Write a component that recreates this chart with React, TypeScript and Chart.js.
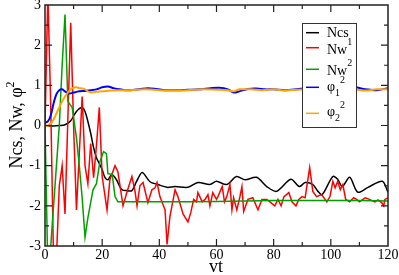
import React, { useEffect, useRef } from "react";
import { Chart, registerables } from "chart.js";

Chart.register(...registerables);

const SERIF = '"Liberation Serif", "Times New Roman", "DejaVu Serif", serif';

// Axis ticks
const xTicks = [0, 20, 40, 60, 80, 100, 120];
const yTicks = [-3, -2, -1, 0, 1, 2, 3];

// Ncs (black)
const ncsX = [0, 3, 5, 7, 9, 11, 12.9, 14, 15, 16, 17, 18, 19, 20, 21, 22, 23.4, 25, 26, 27, 28.5, 30.4, 32, 34, 36.7, 39.5, 42.7, 45.5, 50, 53.5, 57.7, 60, 63.6, 67, 70, 74, 77.6, 81, 86, 89, 91, 93.7, 95.5, 97, 100.7, 102.4, 104, 106.6, 109.4, 113, 118, 120];
const ncsY = [0, -0.01, 0, 0.02, 0.12, 0.35, 0.45, 0.35, 0.1, -0.2, -0.55, -0.8, -0.95, -1.1, -1.3, -1.35, -1.22, -1.35, -1.5, -1.6, -1.62, -1.62, -1.4, -1.17, -1.4, -1.47, -1.54, -1.52, -1.54, -1.42, -1.47, -1.39, -1.47, -1.27, -1.35, -1.29, -1.52, -1.64, -1.34, -1.52, -1.42, -1.47, -1.64, -1.72, -1.27, -1.34, -1.52, -1.29, -1.66, -1.54, -1.39, -1.66];

// Nw^1 (red)
const nw1X = [0, 1, 2, 3, 4, 5, 6, 7, 9, 10, 11, 13, 14, 15, 16, 17, 18, 19, 20, 21.7, 22.7, 24.5, 25.5, 27.3, 28.7, 30.4, 31.5, 32.2, 33.2, 34.3, 36, 37.4, 38.5, 39.2, 40.2, 42, 42.7, 43.7, 45.5, 46.5, 48.3, 50, 51, 52, 53, 53.5, 55, 56, 57, 57.7, 58.7, 60, 60.5, 62, 62.8, 63.6, 64.7, 65.4, 66, 67.1, 68.2, 68.9, 69.5, 71, 72.7, 74.5, 75.9, 77.6, 78.7, 80.4, 81.5, 82.6, 83.6, 85.3, 86.4, 87.8, 88.8, 89.9, 91, 92.6, 93.7, 95, 96.8, 98.6, 99.7, 100.7, 101.5, 102.4, 103.3, 104.2, 105.2, 106.6, 108, 109, 110, 112, 113.5, 115.4, 116.5, 117.8, 118.5, 118.9, 120];
const nw1Y = [0, 3.3, 0.5, -3.4, -3.3, -1.5, -1.0, -2.2, 2.56, 0.0, -2.1, 0.72, -1.0, -1.45, -0.45, -1.3, -0.5, 0.45, -1.27, -2.1, -1.35, -1.0, -1.15, -2.0, -1.65, -1.27, -1.64, -2.0, -1.5, -1.42, -1.92, -1.6, -1.55, -1.42, -1.77, -2.1, -2.96, -2.27, -1.6, -1.77, -2.2, -2.4, -2.17, -1.84, -1.9, -1.67, -1.9, -1.84, -1.72, -2.0, -1.67, -1.84, -1.77, -1.52, -1.9, -1.77, -1.47, -2.1, -1.8, -2.1, -1.77, -1.52, -2.14, -1.84, -1.8, -2.1, -1.84, -1.84, -1.9, -2.0, -1.84, -2.0, -1.77, -1.67, -1.9, -2.0, -1.84, -1.77, -1.8, -1.05, -1.64, -1.77, -1.72, -1.9, -1.77, -1.39, -1.55, -1.39, -1.6, -1.47, -1.84, -1.9, -1.8, -1.84, -1.9, -1.8, -1.84, -1.9, -1.85, -1.92, -2.0, -1.84, -1.8];

// Nw^2 (green)
const nw2X = [0, 1, 2, 3, 4, 5, 6, 7, 8, 9.5, 11, 12, 13, 14, 15, 16.8, 18, 19.2, 20.5, 21.5, 22, 23.5, 24.5, 25.5, 30, 40, 50, 60, 70, 80, 90, 100, 110, 120];
const nw2Y = [0, -3.6, -3.0, -2.0, -1.0, 0.0, 1.5, 2.76, 0.6, 0.45, -0.3, -1.0, -1.8, -2.78, -2.3, -1.6, -1.45, -0.9, -0.65, -0.7, -1.2, -1.22, -1.77, -1.9, -1.9, -1.9, -1.9, -1.89, -1.88, -1.87, -1.87, -1.87, -1.87, -1.88];

// phi_1^2 (blue)
const phi1X = [0, 1, 2, 3, 4, 5, 6, 7, 8, 9, 10, 12, 14, 16, 18, 20, 22, 24, 26, 28, 30, 33, 36, 39, 42, 46, 50, 54, 58, 61, 64, 66, 68, 71, 74, 77, 80, 84, 88, 92, 96, 100, 104, 108, 112, 116, 120];
const phi1Y = [0.07, 0.1, 0.25, 0.55, 0.78, 0.88, 0.9, 0.85, 0.8, 0.8, 0.82, 0.85, 0.86, 0.88, 0.9, 0.95, 0.97, 0.93, 0.9, 0.88, 0.88, 0.9, 0.93, 0.91, 0.88, 0.88, 0.89, 0.9, 0.93, 0.94, 0.9, 0.82, 0.85, 0.91, 0.92, 0.9, 0.9, 0.88, 0.9, 0.93, 0.92, 0.9, 0.92, 0.96, 0.9, 0.88, 0.93];

// phi_2^2 (orange)
const phi2X = [0, 1, 2, 3, 4, 5, 6, 7, 8, 9, 10, 11, 12, 13, 14, 15, 16, 18, 20, 23, 26, 30, 35, 40, 45, 50, 55, 60, 64, 66, 68, 72, 76, 80, 84, 88, 92, 96, 100, 104, 108, 112, 116, 120];
const phi2Y = [0, 0, 0.05, 0.15, 0.3, 0.45, 0.6, 0.72, 0.82, 0.9, 0.94, 0.95, 0.93, 0.92, 0.9, 0.85, 0.82, 0.84, 0.85, 0.87, 0.88, 0.88, 0.9, 0.88, 0.87, 0.88, 0.9, 0.89, 0.88, 0.85, 0.9, 0.9, 0.88, 0.9, 0.87, 0.89, 0.9, 0.88, 0.9, 0.87, 0.9, 0.87, 0.9, 0.9];

const pts = (xs: number[], ys: number[]) => xs.map((x, i) => ({ x, y: ys[i] }));

const COLORS = { ncs: "#000000", nw1: "#ff0000", nw2: "#00a000", phi1: "#0000ff", phi2: "#ffa500" };

function drawRich(ctx: CanvasRenderingContext2D, parts: { t: string; size: number; dy: number }[], x: number, y: number) {
  let cx = x;
  for (const p of parts) {
    ctx.font = `${p.size}px ${SERIF}`;
    ctx.fillText(p.t, cx, y + p.dy);
    cx += ctx.measureText(p.t).width;
  }
}
function richWidth(ctx: CanvasRenderingContext2D, parts: { t: string; size: number; dy: number }[]) {
  let w = 0;
  for (const p of parts) {
    ctx.font = `${p.size}px ${SERIF}`;
    w += ctx.measureText(p.t).width;
  }
  return w;
}

const decorPlugin = {
  id: "decor",
  afterDraw(chart: any) {
    const { ctx, chartArea, scales } = chart;
    const { left, right, top, bottom } = chartArea;
    const xs = scales.x;
    const ys = scales.y;
    ctx.save();
    ctx.strokeStyle = "#222";
    ctx.lineWidth = 1.5;
    ctx.strokeRect(left, top, right - left, bottom - top);
    ctx.lineWidth = 1.2;
    ctx.beginPath();
    for (let v = 10; v < 120; v += 10) {
      const px = xs.getPixelForValue(v);
      const len = v % 20 === 0 ? 7 : 4;
      ctx.moveTo(px, bottom);
      ctx.lineTo(px, bottom - len);
      ctx.moveTo(px, top);
      ctx.lineTo(px, top + len);
    }
    for (let v = -2.5; v < 3; v += 0.5) {
      const py = ys.getPixelForValue(v);
      const len = Number.isInteger(v) ? 7 : 4;
      ctx.moveTo(left, py);
      ctx.lineTo(left + len, py);
      ctx.moveTo(right, py);
      ctx.lineTo(right - len, py);
    }
    ctx.stroke();

    ctx.fillStyle = "#000";
    ctx.textBaseline = "alphabetic";
    ctx.textAlign = "left";
    // x title
    ctx.font = `18px ${SERIF}`;
    const vtW = ctx.measureText("vt").width;
    ctx.fillText("vt", 216 - vtW / 2, 272);
    // y title
    const yParts = [
      { t: "Ncs, Nw, \u03c6", size: 18, dy: 0 },
      { t: "2", size: 12, dy: -8 },
    ];
    const yw = richWidth(ctx, yParts);
    ctx.save();
    ctx.translate(22, 125);
    ctx.rotate(-Math.PI / 2);
    drawRich(ctx, yParts, -yw / 2, 0);
    ctx.restore();

    // legend
    ctx.fillStyle = "#fff";
    ctx.fillRect(302, 23, 54, 104);
    ctx.strokeStyle = "#333";
    ctx.lineWidth = 1;
    ctx.strokeRect(302.5, 23.5, 54, 104);
    const entries = [
      { c: COLORS.ncs, ly: 32.7, b: 37, parts: [{ t: "Ncs", size: 14, dy: 0 }] },
      { c: COLORS.nw1, ly: 47.7, b: 54, parts: [{ t: "Nw", size: 14, dy: 0 }, { t: "1", size: 10, dy: -9 }] },
      { c: COLORS.nw2, ly: 69.3, b: 75, parts: [{ t: "Nw", size: 14, dy: 0 }, { t: "2", size: 10, dy: -9 }] },
      { c: COLORS.phi1, ly: 87.3, b: 91, parts: [{ t: "\u03c6", size: 14, dy: 0 }, { t: "1", size: 10, dy: 5 }, { t: "2", size: 10, dy: -8 }] },
      { c: COLORS.phi2, ly: 113.3, b: 116, parts: [{ t: "\u03c6", size: 14, dy: 0 }, { t: "2", size: 10, dy: 5 }, { t: "2", size: 10, dy: -8 }] },
    ];
    for (const e of entries) {
      ctx.strokeStyle = e.c;
      ctx.lineWidth = 1.5;
      ctx.beginPath();
      ctx.moveTo(306, e.ly);
      ctx.lineTo(319, e.ly);
      ctx.stroke();
      ctx.fillStyle = "#000";
      drawRich(ctx, e.parts, 327, e.b);
    }
    ctx.restore();
  },
};

export default function App() {
  const ref = useRef<HTMLCanvasElement | null>(null);
  useEffect(() => {
    if (!ref.current) return;
    const tickFont = { family: SERIF, size: 14 };
    const chart = new Chart(ref.current, {
      type: "line",
      data: {
        datasets: [
          { label: "Ncs", data: pts(ncsX, ncsY), borderColor: COLORS.ncs, borderWidth: 1.5, tension: 0.3, order: 5 },
          { label: "Nw1", data: pts(nw1X, nw1Y), borderColor: COLORS.nw1, borderWidth: 1.5, tension: 0, order: 4 },
          { label: "Nw2", data: pts(nw2X, nw2Y), borderColor: COLORS.nw2, borderWidth: 1.5, tension: 0, order: 3 },
          { label: "phi1", data: pts(phi1X, phi1Y), borderColor: COLORS.phi1, borderWidth: 2, tension: 0.3, order: 2 },
          { label: "phi2", data: pts(phi2X, phi2Y), borderColor: COLORS.phi2, borderWidth: 2, tension: 0.3, order: 1 },
        ] as any,
      },
      options: {
        animation: false,
        responsive: false,
        events: [],
        elements: { point: { radius: 0 } },
        layout: { padding: { top: 5, right: 11, left: 0, bottom: 0 } },
        plugins: { legend: { display: false }, tooltip: { enabled: false } },
        scales: {
          x: {
            type: "linear",
            min: 0,
            max: 120,
            afterBuildTicks: (s: any) => { s.ticks = xTicks.map((v) => ({ value: v })); },
            ticks: { font: tickFont, color: "#000", padding: 1, maxRotation: 0, autoSkip: false },
            grid: { display: false, drawTicks: false },
            border: { display: false },
            afterFit: (s: any) => { s.height = 29; s.paddingLeft = 0; s.paddingRight = 0; s.paddingTop = 0; s.paddingBottom = 0; },
          },
          y: {
            type: "linear",
            min: -3,
            max: 3,
            afterBuildTicks: (s: any) => { s.ticks = yTicks.map((v) => ({ value: v })); },
            ticks: { font: tickFont, color: "#000", padding: 4, autoSkip: false },
            grid: { display: false, drawTicks: false },
            border: { display: false },
            afterFit: (s: any) => { s.width = 45; s.paddingLeft = 0; s.paddingRight = 0; s.paddingTop = 0; s.paddingBottom = 0; },
          },
        },
      } as any,
      plugins: [decorPlugin],
    });
    return () => chart.destroy();
  }, []);
  return (
    <div style={{ position: "fixed", left: 0, top: 0, width: 399, height: 275, background: "#fff" }}>
      <canvas ref={ref} width={399} height={275} style={{ display: "block" }} />
    </div>
  );
}
